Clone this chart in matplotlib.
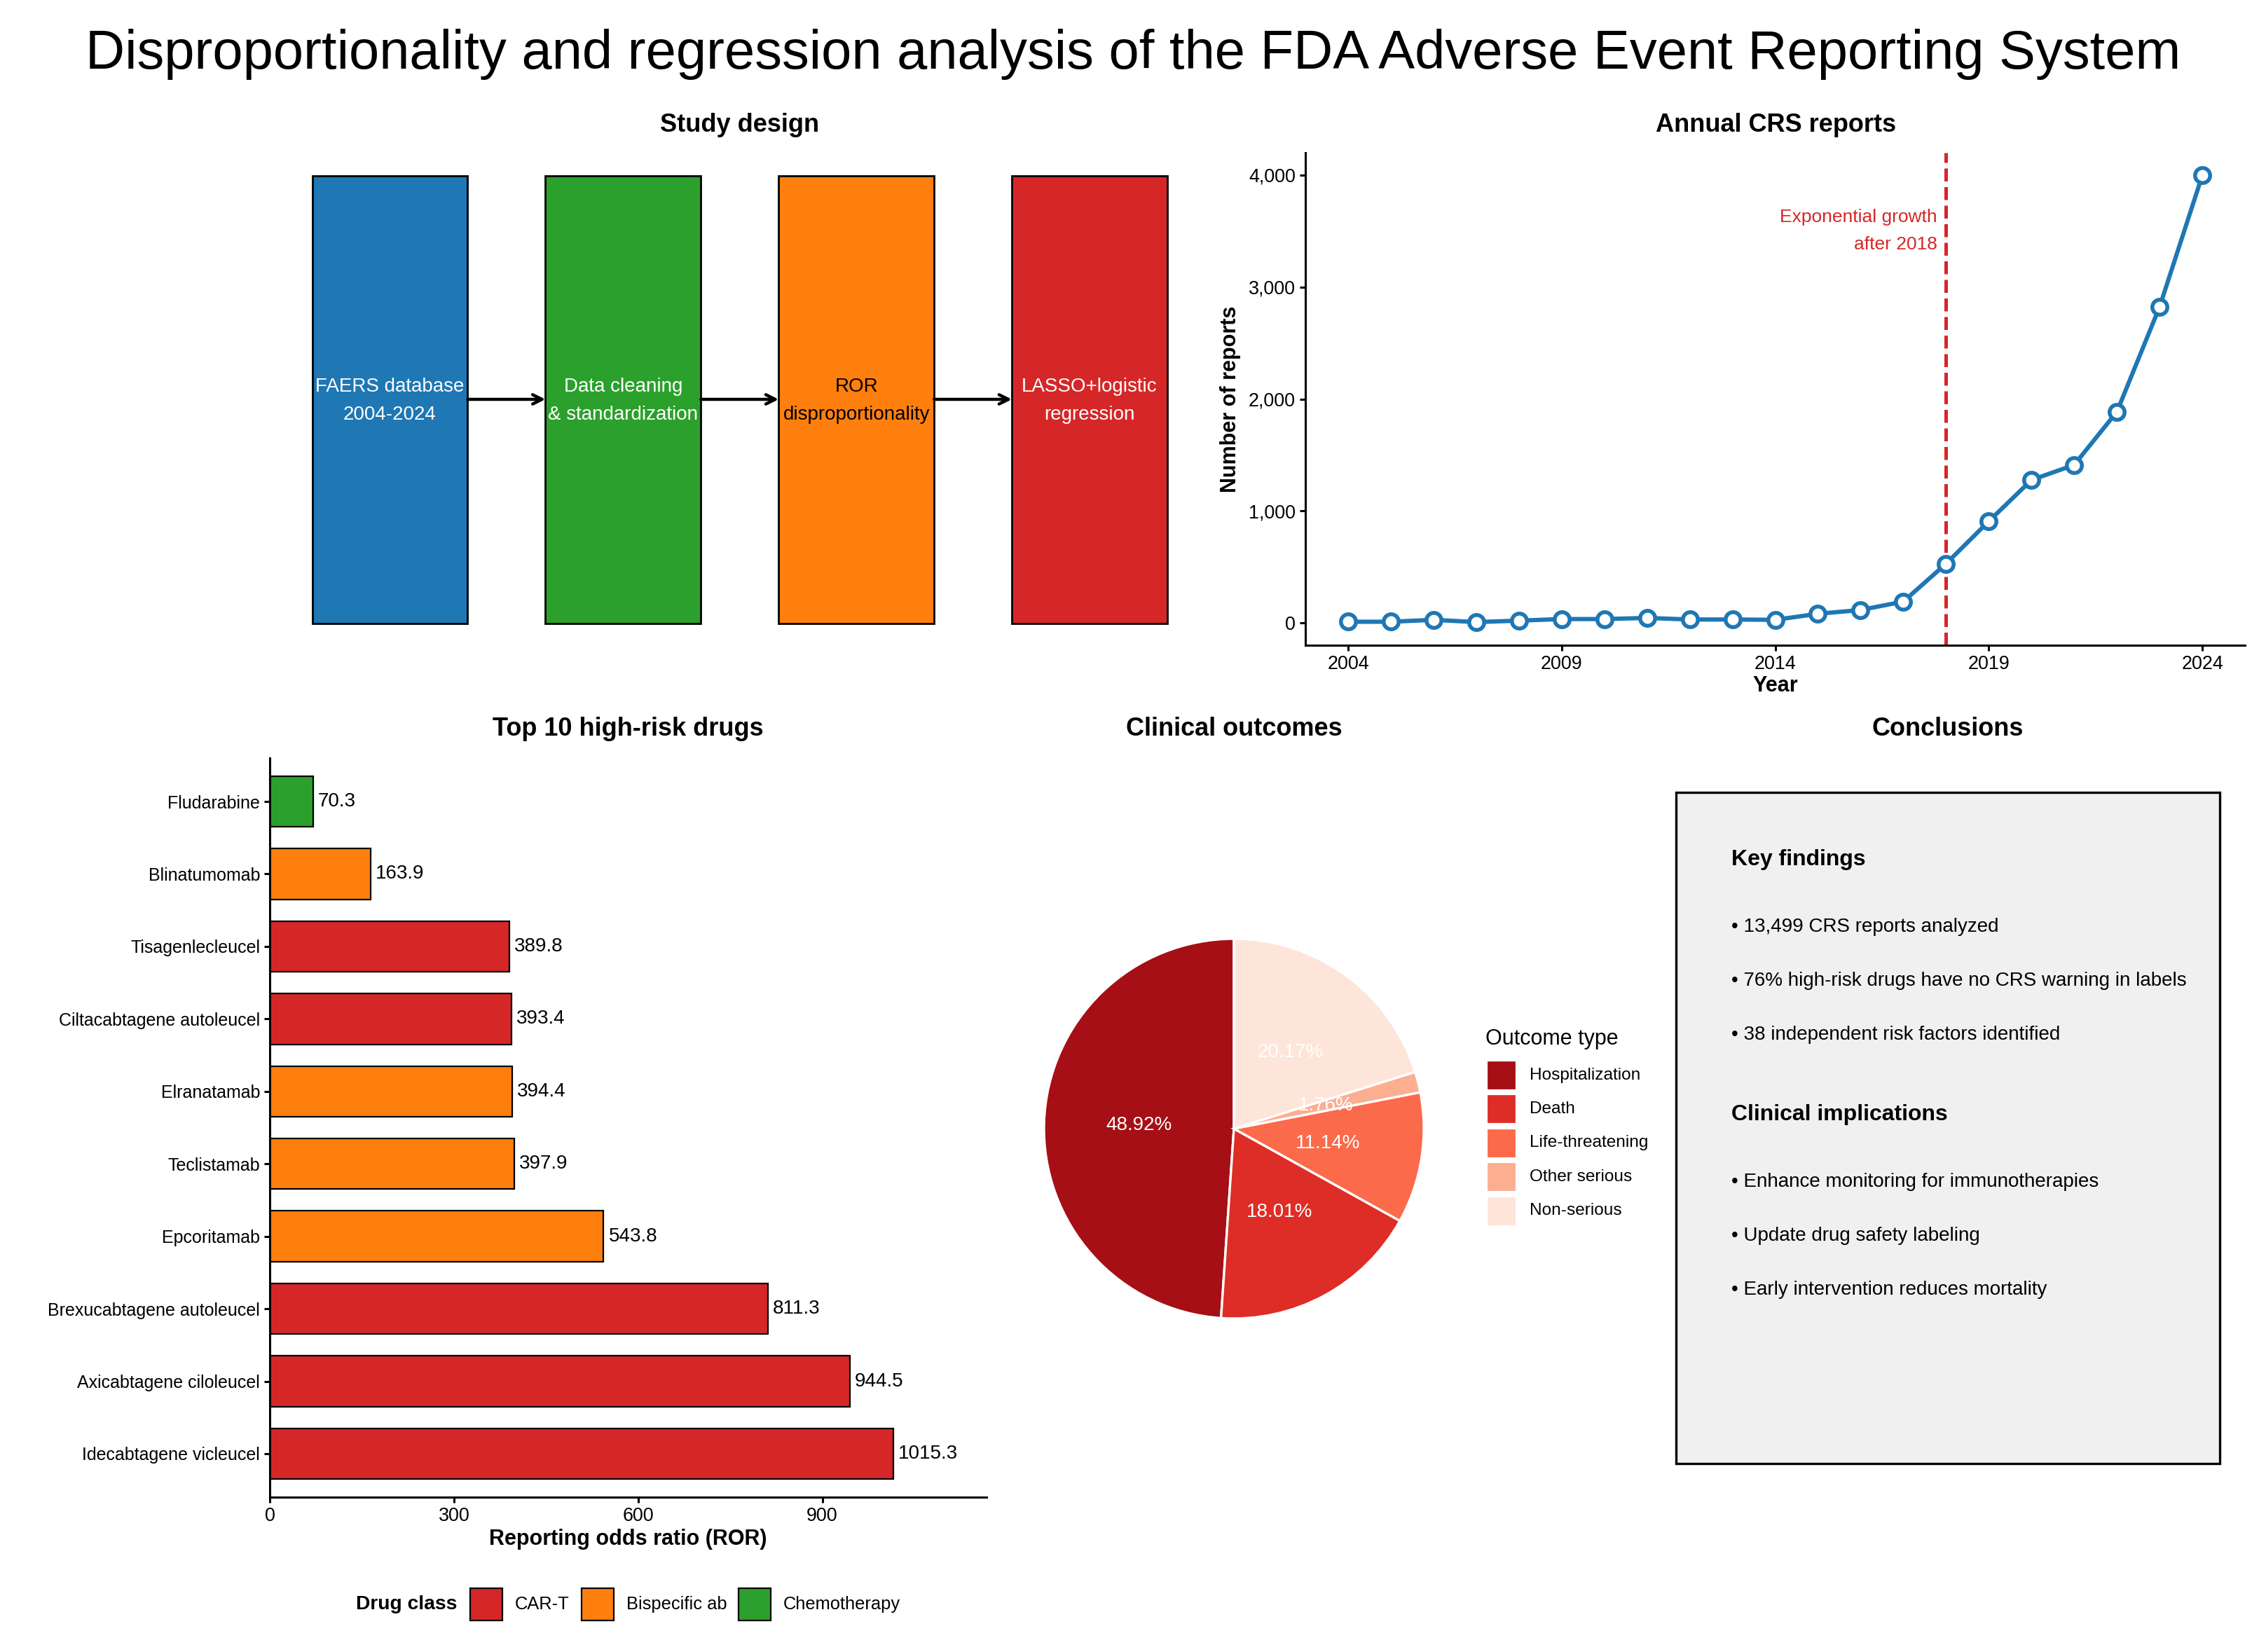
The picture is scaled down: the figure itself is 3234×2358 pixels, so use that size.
import matplotlib
matplotlib.use('Agg')
import matplotlib.pyplot as plt
from matplotlib.patches import Rectangle
from matplotlib.ticker import FuncFormatter

plt.rcParams['font.family'] = ['Liberation Sans', 'DejaVu Sans']

# ---------------- data ----------------
main_title = 'Disproportionality and regression analysis of the FDA Adverse Event Reporting System'

steps = ['FAERS database\n2004-2024', 'Data cleaning\n& standardization',
         'ROR\ndisproportionality', 'LASSO+logistic\nregression']
step_colors = ['#1F77B4', '#2CA02C', '#FF7F0E', '#D62728']
step_text_colors = ['white', 'white', 'black', 'white']

years = list(range(2004, 2025))
reports = [10, 10, 27, 7, 20, 34, 34, 44, 30, 30, 27, 81, 115, 190, 528,
           907, 1276, 1411, 1885, 2822, 3997]
growth_year = 2018

drugs = ['Idecabtagene vicleucel', 'Axicabtagene ciloleucel', 'Brexucabtagene autoleucel',
         'Epcoritamab', 'Teclistamab', 'Elranatamab', 'Ciltacabtagene autoleucel',
         'Tisagenlecleucel', 'Blinatumomab', 'Fludarabine']
ror = [1015.3, 944.5, 811.3, 543.8, 397.9, 394.4, 393.4, 389.8, 163.9, 70.3]
drug_class = ['CAR-T', 'CAR-T', 'CAR-T', 'Bispecific ab', 'Bispecific ab', 'Bispecific ab',
              'CAR-T', 'CAR-T', 'Bispecific ab', 'Chemotherapy']
classes = ['CAR-T', 'Bispecific ab', 'Chemotherapy']
class_colors = {'CAR-T': '#D62728', 'Bispecific ab': '#FF7F0E', 'Chemotherapy': '#2CA02C'}

outcomes = ['Hospitalization', 'Death', 'Life-threatening', 'Other serious', 'Non-serious']
outcome_pct = [48.92, 18.01, 11.14, 1.76, 20.17]
outcome_colors = ['#A50F15', '#DE2D26', '#FB6A4A', '#FCAE91', '#FEE5D9']

key_findings = ['• 13,499 CRS reports analyzed',
                '• 76% high-risk drugs have no CRS warning in labels',
                '• 38 independent risk factors identified']
implications = ['• Enhance monitoring for immunotherapies',
                '• Update drug safety labeling',
                '• Early intervention reduces mortality']

# ---------------- figure ----------------
W, H = 3234, 2358
DPI = 200
fig = plt.figure(figsize=(W / DPI, H / DPI), dpi=DPI)


def fx(px):
    return px / W


def fy(py):
    return 1 - py / H


def rect(l, t, r, b):
    return [l / W, 1 - b / H, (r - l) / W, (b - t) / H]


fig.text(0.5, fy(78), main_title, ha='center', va='center', fontsize=28)

# ---- Study design ----
ax1 = fig.add_axes(rect(445.6, 250.5, 1666, 889.5))
ax1.set_xlim(0, 11)
ax1.set_ylim(0, 1)
ax1.axis('off')
for i, (lab, col, tc) in enumerate(zip(steps, step_colors, step_text_colors)):
    ax1.add_patch(Rectangle((3 * i, 0), 2, 1, facecolor=col, edgecolor='black',
                            linewidth=1.0, clip_on=False))
    ax1.text(3 * i + 1, 0.497, lab, ha='center', va='center', color=tc,
             fontsize=10, linespacing=1.7)
    if i < len(steps) - 1:
        ax1.annotate('', xy=(3 * i + 3, 0.5), xytext=(3 * i + 2, 0.5),
                     arrowprops=dict(arrowstyle='->', lw=1.6, color='black',
                                     shrinkA=0, shrinkB=0, mutation_scale=12))
fig.text(fx(1056), fy(178), 'Study design', ha='center', va='center',
         fontsize=13, fontweight='bold')

# ---- Annual CRS reports ----
ax2 = fig.add_axes(rect(1863, 218, 3204, 921))
ax2.plot(years, reports, color='#1F77B4', lw=2.2, marker='o', ms=7.7,
         mfc='white', mec='#1F77B4', mew=2.0, zorder=3)
ax2.axvline(growth_year, color='#D62728', ls='--', lw=1.8, zorder=2)
ax2.text(growth_year - 0.21, 3500, 'Exponential growth\nafter 2018', ha='right',
         va='center', color='#D62728', fontsize=9.5, linespacing=1.78)
ax2.set_xlim(2003, 2025)
ax2.set_ylim(-200, 4200)
ax2.set_xticks([2004, 2009, 2014, 2019, 2024])
ax2.set_yticks([0, 1000, 2000, 3000, 4000])
ax2.yaxis.set_major_formatter(FuncFormatter(lambda v, p: f'{int(v):,}'))
ax2.set_xlabel('Year', fontweight='bold', fontsize=11, labelpad=1)
ax2.set_ylabel('Number of reports', fontweight='bold', fontsize=11, labelpad=4)
fig.text(fx(2535), fy(178), 'Annual CRS reports', ha='center', va='center',
         fontsize=13, fontweight='bold')

# ---- Top 10 drugs ----
ax3 = fig.add_axes(rect(385, 1082, 1408, 2137))
pos = list(range(len(drugs)))
ax3.barh(pos, ror, height=0.7, color=[class_colors[c] for c in drug_class],
         edgecolor='black', linewidth=0.8)
for p, v in zip(pos, ror):
    ax3.annotate(f'{v:.1f}', xy=(v, p), xytext=(2.5, 0), textcoords='offset points',
                 ha='left', va='center', fontsize=10)
ax3.set_yticks(pos)
ax3.set_yticklabels(drugs)
ax3.set_ylim(-0.6, len(drugs) - 0.4)
ax3.set_xlim(0, max(ror) * 1.15)
ax3.set_xticks([0, 300, 600, 900])
ax3.set_xlabel('Reporting odds ratio (ROR)', fontweight='bold', fontsize=11, labelpad=2)
fig.text(fx(896), fy(1041), 'Top 10 high-risk drugs', ha='center', va='center',
         fontsize=13, fontweight='bold')

# bar legend (horizontal, title on the left)
fig.text(fx(652), fy(2290), 'Drug class', ha='right', va='center',
         fontsize=10.2, fontweight='bold')
leg_patch_x = [671, 830, 1054]
for c, xp in zip(classes, leg_patch_x):
    fig.patches.append(Rectangle((fx(xp), fy(2313)), 46 / W, 46 / H,
                                 facecolor=class_colors[c], edgecolor='black',
                                 linewidth=0.8, transform=fig.transFigure))
    fig.text(fx(xp + 64), fy(2290), c, ha='left', va='center', fontsize=9.2)

for ax in (ax2, ax3):
    for s in ('top', 'right'):
        ax.spines[s].set_visible(False)
    for s in ('left', 'bottom'):
        ax.spines[s].set_linewidth(1.1)
    ax.tick_params(labelsize=9.7, length=3, width=1.1, pad=2)
ax3.tick_params(axis='y', labelsize=9)

# ---- Clinical outcomes pie ----
ax4 = fig.add_axes(rect(1761 - 271, 1611 - 271, 1761 + 271, 1611 + 271))
ax4.pie(outcome_pct, colors=outcome_colors, startangle=90, counterclock=True,
        autopct='%.2f%%', pctdistance=0.5,
        wedgeprops=dict(edgecolor='white', linewidth=1.2),
        textprops=dict(color='white', fontsize=10))
ax4.set_xlim(-1, 1)
ax4.set_ylim(-1, 1)
fig.text(fx(1761), fy(1041), 'Clinical outcomes', ha='center', va='center',
         fontsize=13, fontweight='bold')

fig.text(fx(2120), fy(1483), 'Outcome type', ha='left', va='center', fontsize=11)
for i, (o, c) in enumerate(zip(outcomes, outcome_colors)):
    yc = 1534.5 + 48.5 * i
    fig.patches.append(Rectangle((fx(2122), fy(yc + 21)), 42 / W, 42 / H,
                                 facecolor=c, edgecolor='white', linewidth=0.8,
                                 transform=fig.transFigure))
    fig.text(fx(2183), fy(yc), o, ha='left', va='center', fontsize=8.8)

# ---- Conclusions ----
ax5 = fig.add_axes(rect(2392, 1130.5, 3167.5, 2089))
ax5.axis('off')
ax5.add_patch(Rectangle((0, 0), 1, 1, transform=ax5.transAxes, facecolor='#F0F0F0',
                        edgecolor='black', linewidth=1.2, clip_on=False))
x0 = 0.102
ax5.text(x0, 0.8993, 'Key findings', transform=ax5.transAxes, ha='left', va='center',
         fontsize=11.5, fontweight='bold')
for t, yy in zip(key_findings, [0.7995, 0.7192, 0.6388]):
    ax5.text(x0, yy, t, transform=ax5.transAxes, ha='left', va='center', fontsize=10)
ax5.text(x0, 0.5196, 'Clinical implications', transform=ax5.transAxes, ha='left',
         va='center', fontsize=11.5, fontweight='bold')
for t, yy in zip(implications, [0.4194, 0.3391, 0.2587]):
    ax5.text(x0, yy, t, transform=ax5.transAxes, ha='left', va='center', fontsize=10)
fig.text(fx(2780), fy(1041), 'Conclusions', ha='center', va='center',
         fontsize=13, fontweight='bold')

fig.savefig('out.png', dpi=DPI)
